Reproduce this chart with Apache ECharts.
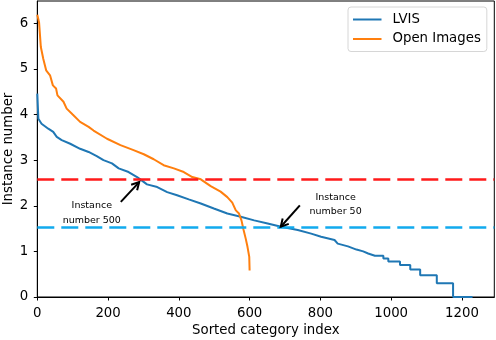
<!DOCTYPE html>
<html><head><meta charset="utf-8">
<script src="https://cdn.jsdelivr.net/npm/echarts@6/dist/echarts.min.js"></script>
<style>html,body{margin:0;padding:0;background:#fff}#c{width:496px;height:340px}</style>
</head><body><div id="c"></div>
<script>
// Sorted category index / log10 instance number
const lvisX = [0, 3, 12, 31, 45, 55, 69, 93, 121, 145, 168, 187, 211, 230, 258, 282, 291, 310, 339, 367, 395, 428, 462, 499, 537, 575, 613, 651, 689, 736, 774, 802, 840, 849, 878, 902, 921, 935, 954, 978, 978, 992, 992, 1025, 1025, 1054, 1054, 1082, 1082, 1129, 1129, 1175, 1175, 1230];
const lvisY = [4.46, 3.91, 3.80, 3.69, 3.62, 3.51, 3.44, 3.36, 3.25, 3.18, 3.09, 3.00, 2.93, 2.82, 2.74, 2.63, 2.58, 2.47, 2.41, 2.30, 2.23, 2.14, 2.05, 1.94, 1.83, 1.76, 1.68, 1.61, 1.54, 1.47, 1.39, 1.32, 1.25, 1.17, 1.11, 1.04, 1.00, 0.954, 0.903, 0.903, 0.845, 0.845, 0.778, 0.778, 0.699, 0.699, 0.602, 0.602, 0.477, 0.477, 0.301, 0.301, 0, 0];
const oiX = [0, 5, 10, 17, 25, 36, 44, 53, 57, 74, 83, 100, 121, 145, 159, 197, 235, 272, 301, 329, 357, 386, 414, 438, 462, 490, 518, 537, 551, 561, 570, 577, 583, 589, 594, 599, 600];
const oiY = [6.19, 6.02, 5.48, 5.22, 4.97, 4.86, 4.64, 4.57, 4.42, 4.28, 4.13, 4.00, 3.84, 3.73, 3.65, 3.47, 3.33, 3.22, 3.13, 3.02, 2.89, 2.82, 2.74, 2.63, 2.58, 2.43, 2.31, 2.19, 2.07, 1.90, 1.83, 1.68, 1.47, 1.28, 1.10, 0.88, 0.58];
const seriesNames = ['LVIS', 'Open Images'];
const xTicks = [0, 200, 400, 600, 800, 1000, 1200];
const yTicks = [0, 1, 2, 3, 4, 5, 6];
const thresholdRed = 2.575;
const thresholdBlue = 1.53;
// annotations: text, text position, arrow tail, arrow head (data units)
const annoText = ['Instance\nnumber 500', 'Instance\nnumber 50'];
const annoPos = [[154, 1.84], [843, 2.03]];
const arrowFrom = [[236, 2.085], [742, 2.01]];
const arrowTo = [[288, 2.52], [688, 1.54]];

const FONT = 'DejaVu Sans';
const chart = echarts.init(document.getElementById('c'), null, {renderer: 'canvas'});
const zip = (xs, ys) => xs.map((x, i) => [x, ys[i]]);

const option = {
  animation: false,
  backgroundColor: '#fff',
  grid: {left: 37.3, right: 1.7, top: 1, bottom: 43, containLabel: false, outerBoundsMode: 'none',
    show: true, borderColor: '#000', borderWidth: 1, backgroundColor: 'transparent'},
  legend: {
    data: seriesNames, orient: 'vertical', left: 348, top: 7,
    padding: [5, 6, 5, 5], itemGap: 4.5, itemWidth: 28.5, itemHeight: 2, icon: 'rect',
    backgroundColor: '#fff', borderColor: '#d6d6d6', borderWidth: 1, borderRadius: 3,
    textStyle: {fontFamily: FONT, fontSize: 13.3, color: '#000', padding: [0, 0, 0, 6], lineHeight: 15}
  },
  xAxis: {
    type: 'value', min: 0, max: 1291.5,
    name: 'Sorted category index', nameLocation: 'middle', nameGap: 27, nameMoveOverlap: false,
    nameTextStyle: {fontFamily: FONT, fontSize: 13.3, color: '#000'},
    axisLine: {show: true, lineStyle: {color: '#000', width: 1}},
    axisTick: {show: true, length: 3.5, lineStyle: {color: '#000'}, customValues: xTicks},
    axisLabel: {fontFamily: FONT, fontSize: 13.3, color: '#000', margin: 10, customValues: xTicks, formatter: v => String(v)},
    splitLine: {show: false}
  },
  yAxis: {
    type: 'value', min: 0, max: 6.49,
    name: 'Instance number', nameLocation: 'middle', nameGap: 22, nameMoveOverlap: false,
    nameTextStyle: {fontFamily: FONT, fontSize: 13.3, color: '#000'},
    axisLine: {show: true, lineStyle: {color: '#000', width: 1}},
    axisTick: {show: true, length: 3.5, lineStyle: {color: '#000'}, customValues: yTicks},
    axisLabel: {fontFamily: FONT, fontSize: 13.3, color: '#000', margin: 9, customValues: yTicks, formatter: v => String(v)},
    splitLine: {show: false}
  },
  series: [
    {
      name: seriesNames[0], type: 'line', data: zip(lvisX, lvisY), showSymbol: false, symbol: 'none',
      lineStyle: {color: '#1f77b4', width: 2}, itemStyle: {color: '#1f77b4'}, z: 3
    },
    {
      name: seriesNames[1], type: 'line', data: zip(oiX, oiY), showSymbol: false, symbol: 'none',
      lineStyle: {color: '#ff7f0e', width: 2}, itemStyle: {color: '#ff7f0e'}, z: 3,
      markLine: {
        silent: true, symbol: ['none', 'none'], label: {show: false}, z: 5,
        data: [
          {yAxis: thresholdRed, lineStyle: {color: '#ff1a1a', width: 2.5, type: [17, 7]}},
          {yAxis: thresholdBlue, lineStyle: {color: '#12aaee', width: 2.5, type: [17, 7]}}
        ]
      }
    },
    {
      name: 'annotations', type: 'custom', z: 6,
      data: annoText.map((t, i) => [annoPos[i][0], annoPos[i][1], arrowFrom[i][0], arrowFrom[i][1], arrowTo[i][0], arrowTo[i][1]]),
      renderItem: function (params, api) {
        const i = params.dataIndex;
        const tp = api.coord([api.value(0), api.value(1)]);
        const a = api.coord([api.value(2), api.value(3)]);
        const b = api.coord([api.value(4), api.value(5)]);
        const ang = Math.atan2(b[1] - a[1], b[0] - a[0]);
        const L = 8.5, spread = 0.5;
        const h1 = [b[0] - L * Math.cos(ang - spread), b[1] - L * Math.sin(ang - spread)];
        const h2 = [b[0] - L * Math.cos(ang + spread), b[1] - L * Math.sin(ang + spread)];
        return {
          type: 'group',
          children: [
            {type: 'line', shape: {x1: a[0], y1: a[1], x2: b[0], y2: b[1]}, style: {stroke: '#000', lineWidth: 2}},
            {type: 'polyline', shape: {points: [h1, b, h2]}, style: {stroke: '#000', lineWidth: 2, fill: null}},
            {type: 'text', x: tp[0], y: tp[1], style: {text: annoText[i], fontFamily: FONT, fontSize: 9.5, lineHeight: 14.6, fill: '#000', align: 'center', verticalAlign: 'middle'}}
          ]
        };
      }
    }
  ]
};
chart.setOption(option);
</script>
</body></html>
